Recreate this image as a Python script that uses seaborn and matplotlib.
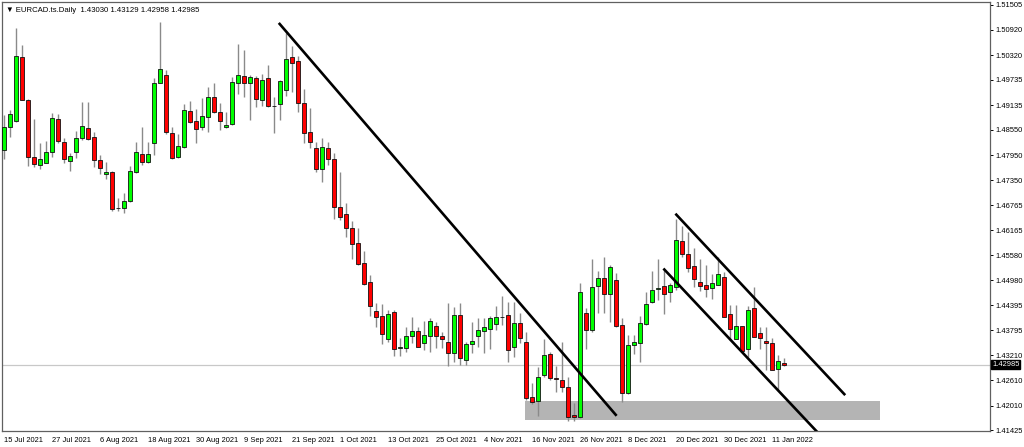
import numpy as np
import pandas as pd
import matplotlib
matplotlib.use('Agg')
import matplotlib.pyplot as plt
import matplotlib.transforms as mtransforms
from matplotlib.patches import Rectangle
import seaborn as sns

sns.set_style('white')
plt.rcParams['font.family'] = ['Liberation Sans', 'DejaVu Sans']

# ------------------------------------------------------------
# EURCAD daily candles, 15 Jul 2021 - 13 Jan 2022
# ------------------------------------------------------------
opens = [1.4807, 1.4862, 1.4876, 1.5027, 1.4926, 1.4791, 1.4772, 1.4776, 1.4802, 1.4880,
         1.4826, 1.4781, 1.4802, 1.4836, 1.4859, 1.4838, 1.4783, 1.4750, 1.4755, 1.4670,
         1.4670, 1.4686, 1.4755, 1.4798, 1.4779, 1.4824, 1.4966, 1.4985, 1.4847, 1.4791,
         1.4814, 1.4899, 1.4876, 1.4862, 1.4885, 1.4933, 1.4897, 1.4862, 1.4869, 1.4966,
         1.4982, 1.4966, 1.4978, 1.4926, 1.4978, 1.4911, 1.4916, 1.4949, 1.5027, 1.5018,
         1.4918, 1.4850, 1.4812, 1.4762, 1.4812, 1.4786, 1.4672, 1.4656, 1.4622, 1.4587,
         1.4539, 1.4495, 1.4426, 1.4414, 1.4360, 1.4423, 1.4338, 1.4338, 1.4367, 1.4379,
         1.4350, 1.4367, 1.4390, 1.4367, 1.4352, 1.4327, 1.4416, 1.4310, 1.4348, 1.4367,
         1.4379, 1.4383, 1.4395, 1.4412, 1.4416, 1.4341, 1.4397, 1.4352, 1.4222, 1.4213,
         1.4274, 1.4324, 1.4266, 1.4262, 1.4245, 1.4180, 1.4175, 1.4421, 1.4381, 1.4485,
         1.4504, 1.4466, 1.4499, 1.4393, 1.4232, 1.4345, 1.4350, 1.4395, 1.4447, 1.4478,
         1.4485, 1.4471, 1.4483, 1.4592, 1.4561, 1.4532, 1.4495, 1.4487, 1.4481, 1.4487,
         1.4506, 1.4419, 1.4360, 1.4390, 1.4336, 1.4433, 1.4374, 1.4355, 1.4350, 1.4288,
         1.43030]
highs = [1.4890, 1.4902, 1.5096, 1.5056, 1.4927, 1.4880, 1.4824, 1.4828, 1.4895, 1.4892,
         1.4836, 1.4800, 1.4852, 1.4921, 1.4921, 1.4850, 1.4795, 1.4779, 1.4756, 1.4693,
         1.4705, 1.4769, 1.4826, 1.4862, 1.4826, 1.4978, 1.5110, 1.4997, 1.4862, 1.4845,
         1.4916, 1.4923, 1.4904, 1.4930, 1.4956, 1.4966, 1.4918, 1.4897, 1.4980, 1.5058,
         1.5044, 1.4985, 1.4982, 1.4987, 1.5008, 1.4933, 1.4973, 1.5084, 1.5053, 1.5030,
         1.4952, 1.4907, 1.4826, 1.4836, 1.4826, 1.4800, 1.4755, 1.4682, 1.4639, 1.4622,
         1.4568, 1.4511, 1.4445, 1.4442, 1.4428, 1.4428, 1.4362, 1.4388, 1.4412, 1.4388,
         1.4402, 1.4409, 1.4400, 1.4376, 1.4445, 1.4435, 1.4445, 1.4352, 1.4400, 1.4409,
         1.4409, 1.4414, 1.4438, 1.4461, 1.4447, 1.4447, 1.4421, 1.4376, 1.4255, 1.4293,
         1.4360, 1.4329, 1.4296, 1.4352, 1.4270, 1.4208, 1.4492, 1.4433, 1.4549, 1.4521,
         1.4554, 1.4535, 1.4516, 1.4409, 1.4369, 1.4369, 1.4414, 1.4471, 1.4521, 1.4549,
         1.4526, 1.4492, 1.4644, 1.4627, 1.4613, 1.4575, 1.4549, 1.4535, 1.4513, 1.4554,
         1.4518, 1.4440, 1.4440, 1.4391, 1.4438, 1.4483, 1.4388, 1.4388, 1.4362, 1.4322,
         1.43129]
lows = [1.4786, 1.4838, 1.4873, 1.4925, 1.4769, 1.4767, 1.4762, 1.4775, 1.4791, 1.4824,
        1.4776, 1.4757, 1.4788, 1.4831, 1.4831, 1.4767, 1.4750, 1.4738, 1.4663, 1.4663,
        1.4658, 1.4684, 1.4753, 1.4772, 1.4776, 1.4795, 1.4965, 1.4845, 1.4786, 1.4788,
        1.4812, 1.4871, 1.4824, 1.4855, 1.4850, 1.4895, 1.4855, 1.4859, 1.4866, 1.4940,
        1.4933, 1.4878, 1.4909, 1.4911, 1.4909, 1.4847, 1.4878, 1.4935, 1.4944, 1.4897,
        1.4824, 1.4812, 1.4755, 1.4731, 1.4772, 1.4644, 1.4641, 1.4601, 1.4549, 1.4535,
        1.4487, 1.4414, 1.4388, 1.4348, 1.4352, 1.4319, 1.4319, 1.4329, 1.4350, 1.4340,
        1.4334, 1.4329, 1.4338, 1.4338, 1.4296, 1.4305, 1.4298, 1.4298, 1.4327, 1.4341,
        1.4327, 1.4336, 1.4381, 1.4393, 1.4305, 1.4317, 1.4350, 1.4215, 1.4206, 1.4177,
        1.4270, 1.4262, 1.4234, 1.4234, 1.4165, 1.4165, 1.4172, 1.4336, 1.4376, 1.4421,
        1.4421, 1.4400, 1.4388, 1.4210, 1.4229, 1.4324, 1.4305, 1.4393, 1.4445, 1.4452,
        1.4419, 1.4447, 1.4476, 1.4554, 1.4518, 1.4483, 1.4473, 1.4459, 1.4454, 1.4486,
        1.4410, 1.4357, 1.4358, 1.4329, 1.4317, 1.4363, 1.4336, 1.4286, 1.4285, 1.4236,
        1.42958]
closes = [1.4862, 1.4892, 1.5030, 1.4926, 1.4791, 1.4774, 1.4786, 1.4802, 1.4883, 1.4828,
          1.4786, 1.4793, 1.4836, 1.4864, 1.4833, 1.4783, 1.4764, 1.4755, 1.4667, 1.4669,
          1.4686, 1.4757, 1.4802, 1.4779, 1.4798, 1.4966, 1.4999, 1.4850, 1.4788, 1.4817,
          1.4902, 1.4873, 1.4857, 1.4888, 1.4933, 1.4897, 1.4876, 1.4866, 1.4968, 1.4985,
          1.4966, 1.4980, 1.4928, 1.4973, 1.4911, 1.4910, 1.4970, 1.5023, 1.5013, 1.4918,
          1.4847, 1.4826, 1.4762, 1.4814, 1.4786, 1.4672, 1.4648, 1.4622, 1.4585, 1.4537,
          1.4490, 1.4438, 1.4412, 1.4371, 1.4419, 1.4336, 1.4339, 1.4367, 1.4379, 1.4341,
          1.4369, 1.4402, 1.4367, 1.4360, 1.4327, 1.4416, 1.4315, 1.4348, 1.4355, 1.4381,
          1.4388, 1.4409, 1.4412, 1.4411, 1.4334, 1.4397, 1.4362, 1.4220, 1.4210, 1.4270,
          1.4322, 1.4267, 1.4265, 1.4245, 1.4175, 1.4175, 1.4471, 1.4381, 1.4483, 1.4504,
          1.4466, 1.4530, 1.4390, 1.4232, 1.4345, 1.4352, 1.4397, 1.4442, 1.4476, 1.4479,
          1.4466, 1.4487, 1.4594, 1.4561, 1.4528, 1.4502, 1.4485, 1.4478, 1.4492, 1.4513,
          1.4412, 1.4383, 1.4390, 1.4331, 1.4428, 1.4364, 1.4362, 1.4350, 1.4286, 1.4307,
          1.42985]

date_labels = ['15 Jul 2021', '27 Jul 2021', '6 Aug 2021', '18 Aug 2021', '30 Aug 2021',
               '9 Sep 2021', '21 Sep 2021', '1 Oct 2021', '13 Oct 2021', '25 Oct 2021',
               '4 Nov 2021', '16 Nov 2021', '26 Nov 2021', '8 Dec 2021', '20 Dec 2021',
               '30 Dec 2021', '11 Jan 2022']
price_ticks = [1.51505, 1.50920, 1.50320, 1.49735, 1.49135, 1.48550, 1.47950, 1.47350,
               1.46765, 1.46165, 1.45580, 1.44980, 1.44395, 1.43795, 1.43210, 1.42610,
               1.42010, 1.41425]
title = '\u25bc EURCAD.ts.Daily  1.43030 1.43129 1.42958 1.42985'
last_price = 1.42985

# drawn objects: trend lines (bar index, price) and the support zone
trend_main = ([45.8, 102.1], [1.5108, 1.4177])
channel_top = ([111.9, 140.2], [1.4656, 1.4226])
channel_bottom = ([109.9, 137.7], [1.4526, 1.4106])
zone_x = [86.9, 146.0]
zone_y = [1.4167, 1.4212]

df = pd.DataFrame({'open': opens, 'high': highs, 'low': lows, 'close': closes})
df['date'] = pd.bdate_range('2021-07-15', periods=len(df))
df['idx'] = np.arange(len(df))
df['up'] = df['close'] >= df['open']

fig = plt.figure(figsize=(10.24, 4.47), dpi=100)
ax = fig.add_axes([2 / 1024, 16 / 447, 988 / 1024, 429 / 447])

# support zone + current price line (behind candles)
ax.add_patch(Rectangle((zone_x[0], zone_y[0]), zone_x[1] - zone_x[0], zone_y[1] - zone_y[0],
                       facecolor='#b4b4b4', edgecolor='none', zorder=1))
ax.axhline(last_price, color='#c8c8c8', lw=0.9, zorder=1)

# wicks (MT4 draws them grey)
ax.vlines(df['idx'], df['low'], df['high'], color='#8a8a8a', lw=1.0, zorder=2)

# bodies
body_lo = df[['open', 'close']].min(axis=1)
body_h = (df['close'] - df['open']).abs().clip(lower=0.00004)
colors = np.where(df['up'], '#00ff00', '#ff0000')
ax.bar(df['idx'], body_h, bottom=body_lo, width=0.62, color=colors,
       edgecolor='#101010', linewidth=0.6, zorder=3)

# trend lines
for xs, ys in [trend_main, channel_top, channel_bottom]:
    ax.plot(xs, ys, color='black', lw=1.9, solid_capstyle='butt', zorder=4)

ax.set_xlim(-0.33, 164.33)
ax.set_ylim(1.41410, 1.51576)

# x axis: MT4 style labels every 8 bars
ax.set_xticks(df['idx'][::8])
ax.set_xticklabels(date_labels, ha='left', fontsize=5.4)
ax.tick_params(axis='x', direction='out', length=3, width=0.7, pad=1.5, colors='black')

# y axis on the right
ax.yaxis.tick_right()
ax.set_yticks(price_ticks)
ax.set_yticklabels([f'{p:.5f}' for p in price_ticks], fontsize=5.4)
ax.tick_params(axis='y', direction='out', length=2.5, width=0.7, pad=1.5, colors='black')

for s in ax.spines.values():
    s.set_color('#606060')
    s.set_linewidth(0.9)

# highlighted current price on the scale
trans = mtransforms.blended_transform_factory(ax.transAxes, ax.transData)
ax.text(1.002, last_price, f'{last_price:.5f}', transform=trans, fontsize=5.4,
        color='white', va='center', ha='left',
        bbox=dict(boxstyle='square,pad=0.15', facecolor='black', edgecolor='black'),
        clip_on=False, zorder=6)

ax.text(0.004, 0.988, title, transform=ax.transAxes, fontsize=5.6, va='top', ha='left',
        color='black', zorder=6)

ax.grid(False)
fig.savefig('out.png', dpi=100)
